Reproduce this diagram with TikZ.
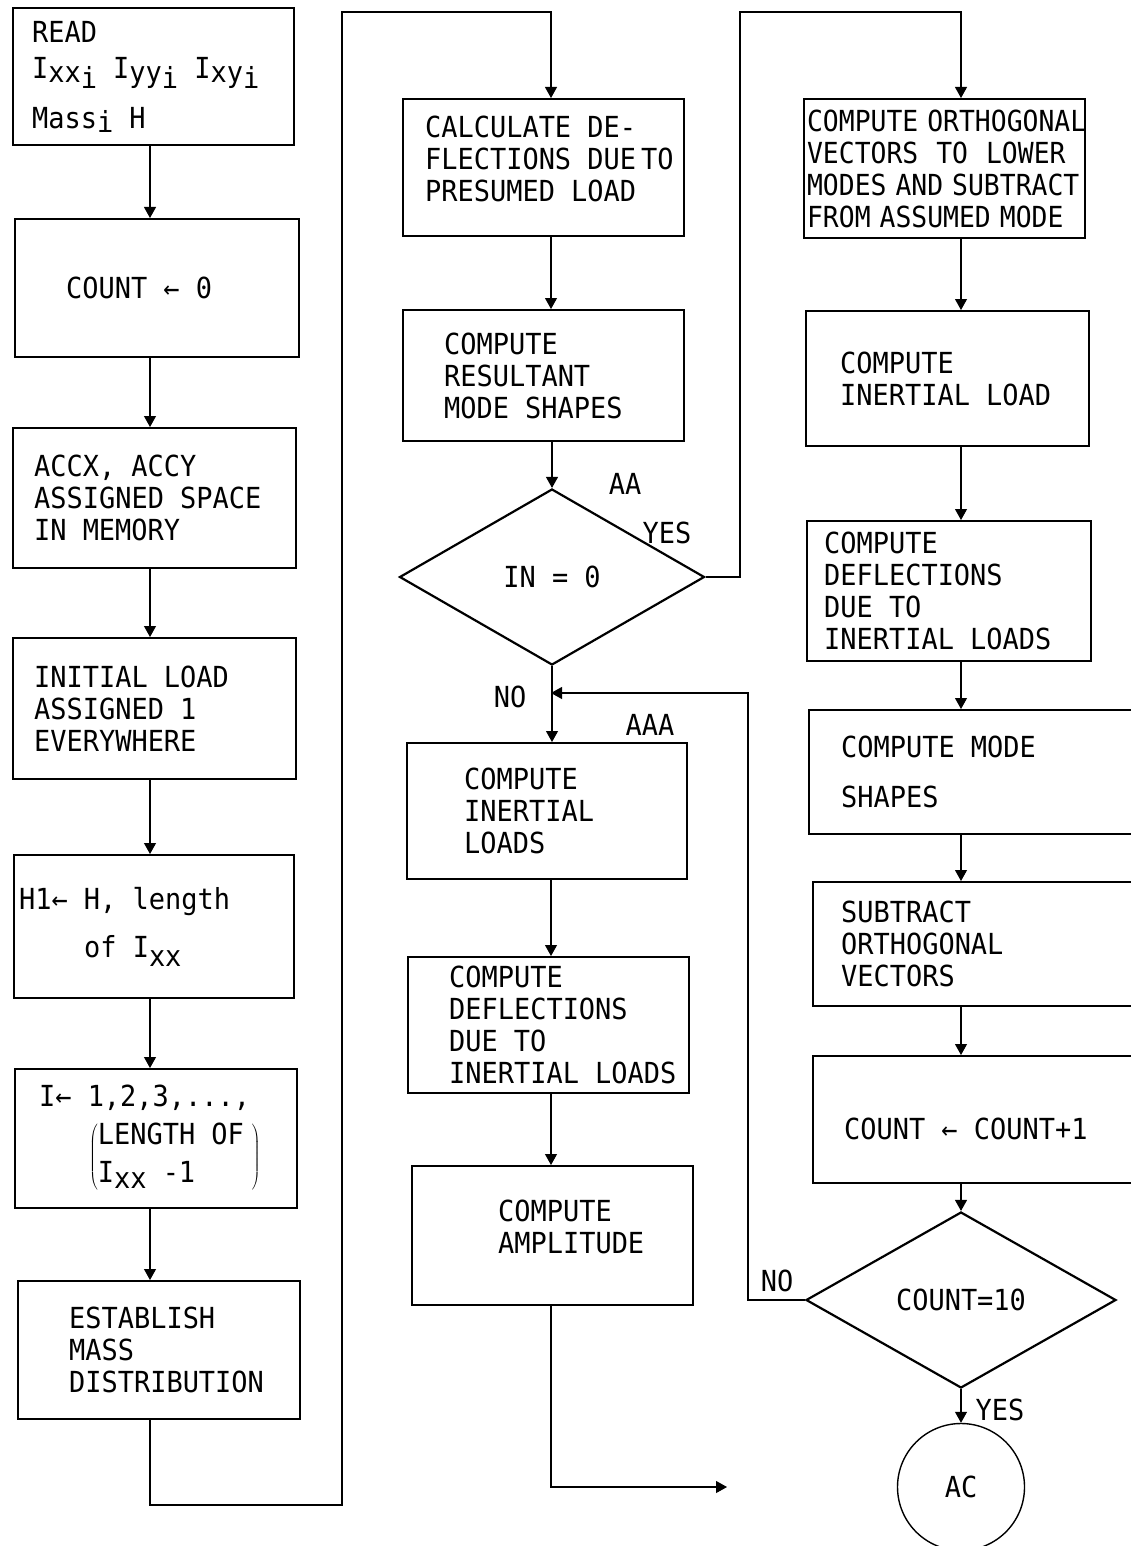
\documentclass[tikz,border=0pt]{standalone}
\usepackage{fontspec}
\usetikzlibrary{shapes.geometric,arrows.meta,calc}
\newfontfamily\flowfont[FakeStretch=0.93]{DejaVu Sans Mono}
\newfontfamily\flownarrow[FakeStretch=0.91]{DejaVu Sans Mono}
\newcommand{\dn}[2][6pt]{\raisebox{-#1}{#2}}
\tikzset{
  nd_box/.style n args={3}{
    rectangle, draw=black, line width=2.2pt, anchor=north west,
    minimum width=#1pt, minimum height=#2pt, text width=#1pt,
    inner sep=0pt, align=left,
    font=\flowfont\fontsize{29}{32}\selectfont,
    execute at begin node={\leftskip=#3pt\spaceskip=16.2pt\hyphenpenalty=10000\relax}},
  nd_dec/.style 2 args={
    diamond, draw=black, line width=2.2pt,
    minimum width=#1pt, minimum height=#2pt, inner sep=0pt,
    font=\flowfont\fontsize{29}{32}\selectfont},
  nd_term/.style={
    circle, draw=black, line width=1.4pt,
    minimum size=127pt, inner sep=0pt,
    font=\flowfont\fontsize{29}{32}\selectfont},
  arr/.style={-{Triangle[length=11pt,width=12pt]},line width=1.1pt},
  lbl/.style={font=\flowfont\fontsize{29}{32}\selectfont,inner sep=0pt},
}
\begin{document}
\begin{tikzpicture}[x=1pt,y=-1pt]
\path[use as bounding box,fill=white] (0,0) rectangle (1131,1546);
% columns of the flow lines
\coordinate (colA) at (150,0);
\coordinate (colB) at (551,0);
\coordinate (colC) at (961,0);

% first column
\node[nd_box={281}{137}{19}] (read) at (12,7)
  {READ\\[4pt]I\dn[4pt]{xx\dn[6pt]{i}} I\dn[4pt]{yy\dn[6pt]{i}} I\dn[4pt]{xy\dn[6pt]{i}}\\[18pt]Mass\dn[4pt]{i} H};
\node[nd_box={284}{138}{51}] (cnt0) at (14,218) {COUNT ← 0};
\node[nd_box={283}{140}{21}] (accx) at (12,427) {ACCX, ACCY\\ASSIGNED SPACE\\IN MEMORY};
\node[nd_box={283}{141}{21}] (initl) at (12,637) {INITIAL LOAD\\ASSIGNED 1\\EVERYWHERE};
\node[nd_box={280}{143}{5}] (hone) at (13,854)
  {H1← H, length\\[16pt]\hspace*{65pt}of I\dn[9pt]{xx}};
\node[nd_box={282}{139}{24}] (ione) at (14,1068)
  {I← 1,2,3,...,\\[10pt]\hspace*{50pt}$\left(\begin{tabular}{@{}l@{\hspace{8pt}}}LENGTH OF\\[6pt]I\dn{xx} -1\end{tabular}\right)$};
\node[nd_box={282}{138}{51}] (estab) at (17,1280) {ESTABLISH\\MASS\\DISTRIBUTION};

% second column
\node[nd_box={281}{137}{22}] (calc) at (402,98)
  {CALCULATE DE-\\FLECTIONS~DUE\hspace{5pt}TO\\PRESUMED LOAD\\[-14pt]\mbox{}};
\node[nd_box={281}{131}{41}] (reslt) at (402,309) {COMPUTE\\RESULTANT\\MODE SHAPES};
\node[nd_dec={305}{176}] (inzero) at (552,577) {IN = 0};
\node[nd_box={280}{136}{57}] (inrtl) at (406,742) {COMPUTE\\INERTIAL\\LOADS};
\node[nd_box={281}{136}{41}] (defl) at (407,956) {COMPUTE\\DEFLECTIONS\\DUE TO\\INERTIAL LOADS};
\node[nd_box={281}{139}{86}] (ampl) at (411,1165) {COMPUTE\\AMPLITUDE\\[-14pt]\mbox{}};

% third column
\node[nd_box={281}{139}{3},font=\flownarrow\fontsize{29}{32}\selectfont,
      execute at begin node={\spaceskip=9pt\relax}] (ortho) at (803,98)
  {COMPUTE~ORTHOGONAL\\VECTORS~~TO~~LOWER\\MODES~AND~SUBTRACT\\FROM~ASSUMED~MODE};
\node[nd_box={283}{135}{34}] (inrtc) at (805,310) {COMPUTE\\INERTIAL LOAD};
\node[nd_box={284}{140}{17}] (deflc) at (806,520) {COMPUTE\\DEFLECTIONS\\DUE TO\\INERTIAL LOADS};
\node[nd_box={330}{124}{32}] (modes) at (808,709) {COMPUTE MODE\\[18pt]SHAPES};
\node[nd_box={330}{124}{28}] (subtr) at (812,881) {SUBTRACT\\ORTHOGONAL\\VECTORS};
\node[nd_box={330}{127}{31}] (cntup) at (812,1055) {\raisebox{-9pt}[\height][\depth]{COUNT ← COUNT+1}};
\node[nd_dec={310}{176}] (cntten) at (961,1300) {COUNT=10};
\node[nd_term] (ac) at (961,1487) {AC};

% branch labels
\node[lbl] (lblaa) at (625,484) {AA};
\node[lbl] (lblyes) at (667,533) {YES};
\node[lbl] (lblno) at (510,697) {NO};
\node[lbl] (lblaaa) at (650,725) {AAA};
\node[lbl] (lblnoc) at (777,1281) {NO};
\node[lbl] (lblyesc) at (1000,1410) {YES};

% straight flow
\foreach \a/\b in {read/cnt0,cnt0/accx,accx/initl,initl/hone,hone/ione,ione/estab}
  \draw[arr] (\a.south -| colA) -- (\b.north -| colA);
\foreach \a/\b in {calc/reslt,inrtl/defl,defl/ampl}
  \draw[arr] (\a.south -| colB) -- (\b.north -| colB);
\foreach \a/\b in {ortho/inrtc,inrtc/deflc,deflc/modes,modes/subtr,subtr/cntup}
  \draw[arr] (\a.south -| colC) -- (\b.north -| colC);
\draw[arr] (reslt.south -| inzero.north) -- (inzero.north);
\draw[arr] (inzero.south) -- (inzero.south |- inrtl.north);
\draw[arr] (cntup.south -| cntten.north) -- (cntten.north);
\draw[arr] (cntten.south) -- (ac.north);

% bends
\coordinate (retA) at (342,1505);
\coordinate (topA) at (342,12);
\coordinate (topB) at (740,12);
\coordinate (backB) at (748,693);
\coordinate (exitB) at (727,1487);
\draw[arr] (estab.south -| colA) |- (retA) -- (topA) -| (calc.north -| colB);
\draw[arr] (inzero.east) -| (topB) -| (ortho.north -| colC);
\draw[arr] (cntten.west) -| (backB) -- (colB |- backB);
\draw[arr] (ampl.south -| colB) |- (exitB);
\end{tikzpicture}
\end{document}
